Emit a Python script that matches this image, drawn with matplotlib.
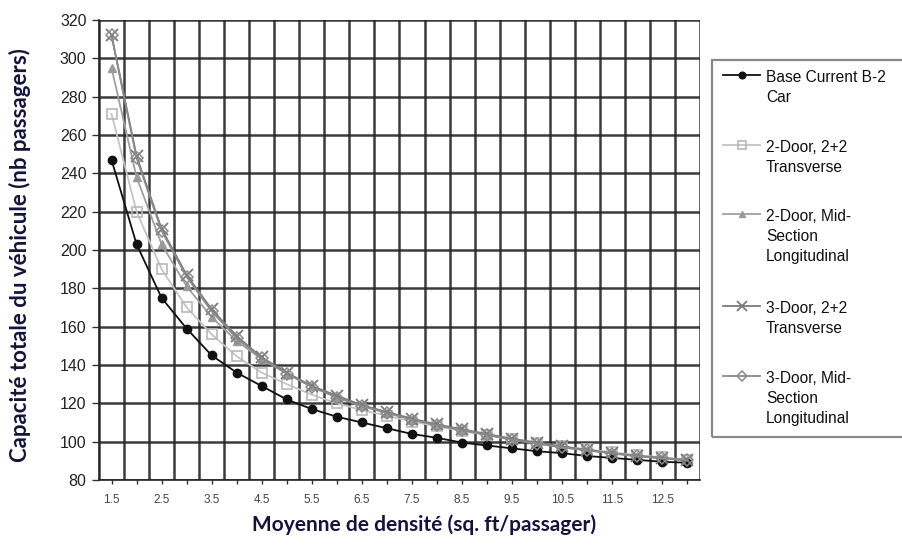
import numpy as np
import matplotlib
matplotlib.use("Agg")
import matplotlib.pyplot as plt
from matplotlib.lines import Line2D
from matplotlib.patches import Rectangle

densities = [1.5, 2, 2.5, 3, 3.5, 4, 4.5, 5, 5.5, 6, 6.5, 7, 7.5, 8, 8.5, 9,
             9.5, 10, 10.5, 11, 11.5, 12, 12.5, 13]
base_b2 = [247, 203, 175, 159, 145, 136, 129, 122, 117, 113, 110, 107, 104,
           102, 99.5, 98, 96.5, 95, 94, 92.5, 91.5, 90.5, 89.5, 89]
door2_transverse = [271, 220, 190, 170, 156, 144.5, 136, 130, 124.5, 120, 116.5,
                    113.5, 110.5, 108, 105.5, 103.5, 101.5, 99.5, 97.5, 96, 94.5,
                    93, 91.8, 90.5]
door2_midsection = [295, 238, 203, 181, 165, 152.5, 143, 135.5, 129, 123.5, 119,
                    115, 111.5, 108.5, 106, 103.5, 101, 99, 97, 95.5, 94, 92.5,
                    91.3, 90.2]
door3_transverse = [312, 249, 211, 187, 169, 155, 144, 136, 129, 124, 119, 115.5,
                    112, 109, 106.5, 104, 101.5, 99.5, 97.5, 95.7, 94, 92.6, 91.5,
                    90.5]
door3_midsection = [312, 248, 210, 186, 168, 154, 143.5, 135.5, 128.5, 123, 118.5,
                    115, 111.5, 108.5, 106, 103.5, 101, 99, 97, 95.5, 93.8, 92.4,
                    91.3, 90.3]
series_labels = ["Base Current B-2\nCar", "2-Door, 2+2\nTransverse",
                 "2-Door, Mid-\nSection\nLongitudinal", "3-Door, 2+2\nTransverse",
                 "3-Door, Mid-\nSection\nLongitudinal"]
y_ticks = list(range(80, 321, 20))
x_label = "Moyenne de densité (sq. ft/passager)"
y_label = "Capacité totale du véhicule (nb passagers)"

W, H = 902, 547
fig = plt.figure(figsize=(W / 100, H / 100), dpi=100)
ax = fig.add_axes([99 / W, 1 - 480 / H, (700 - 99) / W, 460 / H])

xpos = np.arange(len(densities))
styles = [
    dict(color="#111111", marker="o", ms=6, mfc="#111111", mec="#111111", lw=1.3, zorder=5),
    dict(color="#c4c4c4", marker="s", ms=7, mfc="none", mec="#b8b8b8", mew=1.2, lw=1.3, zorder=3),
    dict(color="#a0a0a0", marker="^", ms=6, mfc="#9a9a9a", mec="#9a9a9a", lw=1.3, zorder=4),
    dict(color="#7a7a7a", marker="x", ms=9, mec="#7a7a7a", mew=1.3, lw=1.3, zorder=6),
    dict(color="#8a8a8a", marker="D", ms=6, mfc="none", mec="#8a8a8a", mew=1.1, lw=1.3, zorder=6),
]
all_series = [base_b2, door2_transverse, door2_midsection, door3_transverse, door3_midsection]
for vals, st in zip(all_series, styles):
    ax.plot(xpos, vals, **st)

ax.set_xlim(-0.5, len(densities) - 0.5)
ax.set_ylim(80, 320)
ax.set_yticks(y_ticks)
ax.set_yticklabels([str(v) for v in y_ticks])
ax.set_xticks(xpos)
ax.set_xticklabels([("%g" % d) if i % 2 == 0 else "" for i, d in enumerate(densities)])
ax.set_xticks(np.arange(-0.5, len(densities)), minor=True)
ax.tick_params(axis="x", which="major", length=3, width=1, color="#333333",
               labelsize=8.5, labelcolor="#444444", pad=7)
ax.tick_params(axis="x", which="minor", length=0)
ax.tick_params(axis="y", length=5, width=1, color="#333333", labelsize=11.5,
               labelcolor="#222222", pad=4)
for lab in ax.get_xticklabels() + ax.get_yticklabels():
    lab.set_family(["Liberation Sans", "DejaVu Sans"])

ax.grid(which="minor", axis="x", color="#262626", lw=1.8, alpha=0.9)
ax.grid(which="major", axis="y", color="#262626", lw=1.8, alpha=0.9)
ax.grid(which="major", axis="x", visible=False)
ax.set_axisbelow(True)
for s in ["top", "right"]:
    ax.spines[s].set_visible(False)
ax.spines["left"].set_color("#222222")
ax.spines["bottom"].set_color("#222222")
ax.spines["left"].set_linewidth(1.2)
ax.spines["bottom"].set_linewidth(1.2)

title_kw = dict(family=["Lato", "DejaVu Sans"], weight="bold", color="#14143a")
fig.text(424 / W, 1 - 525 / H, x_label, ha="center", va="center", fontsize=15, **title_kw)
fig.text(20 / W, 1 - 255 / H, y_label, ha="center", va="center", rotation=90,
         fontsize=16, **title_kw)

# legend box
fig.add_artist(Rectangle((712 / W, 1 - 437 / H), 200 / W, 377 / H, transform=fig.transFigure,
                         fill=False, edgecolor="#8a8a8a", lw=1.6))
first_lines = [75, 145, 214, 306, 376]
for st, lab, yy in zip(styles, series_labels, first_lines):
    yf = 1 - yy / H
    kw = {k: v for k, v in st.items() if k != "zorder"}
    kw["ms"] = kw["ms"] * 0.8
    fig.add_artist(Line2D([723 / W, 741.5 / W, 760 / W], [yf, yf, yf],
                          transform=fig.transFigure, markevery=[1], **kw))
    fig.text(766 / W, 1 - (yy - 5) / H, lab, ha="left", va="top", fontsize=11.2,
             family=["Liberation Sans", "DejaVu Sans"], color="#111111",
             linespacing=1.4, transform=fig.transFigure)

fig.savefig("out.png", dpi=100)
